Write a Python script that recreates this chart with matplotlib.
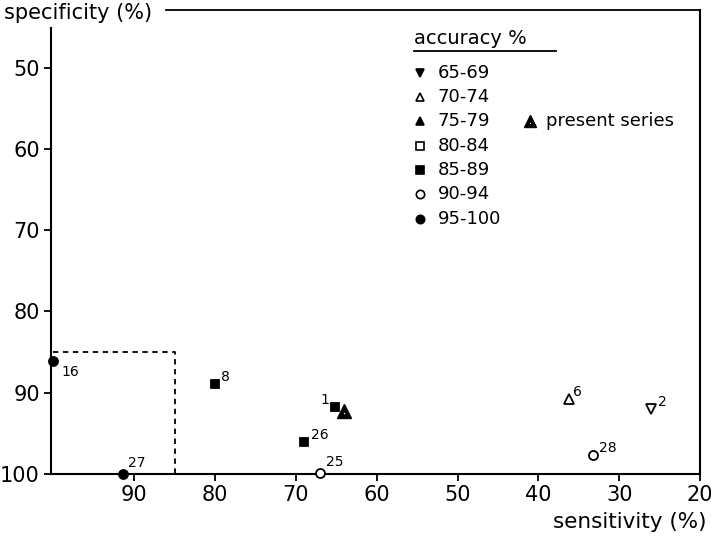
import matplotlib.pyplot as plt
from matplotlib.lines import Line2D

# datos: sensibilidad, especificidad, etiqueta, marcador, relleno
sens = [100, 91.4, 80.0, 69.0, 65.2, 67.0, 36.2, 26.0, 33.2]
espec = [86.1, 100, 88.9, 96.1, 91.8, 99.9, 90.8, 92.0, 97.7]
etiquetas = ['16', '27', '8', '26', '1', '25', '6', '2', '28']
marcadores = ['o', 'o', 's', 's', 's', 'o', '^', 'v', 'o']
rellenos = [True, True, True, True, True, False, False, False, False]

# serie propia
sens_propia = [64.0]
espec_propia = [92.2]

# leyenda
rangos = ['65-69', '70-74', '75-79', '80-84', '85-89', '90-94', '95-100']
marc_leyenda = ['v', '^', '^', 's', 's', 'o', 'o']
relleno_leyenda = [True, False, True, False, True, False, True]

# caja punteada
caja_sens = [100, 85, 85]
caja_espec = [85, 85, 100]

fig = plt.figure(figsize=(7.11, 5.36), dpi=100)
ax = fig.add_axes([0.0717, 0.1157, 0.9128, 0.8656])

ax.set_xlim(100.3, 20)
ax.set_ylim(100, 42.9)

# puntos
offsets = {'16': (6, -8), '27': (4, 3), '8': (4, 0), '26': (5, 0), '1': (-10, 0),
           '25': (4, 3), '6': (3, 0), '2': (5, 0), '28': (4, 0)}
for x, y, t, m, f in zip(sens, espec, etiquetas, marcadores, rellenos):
    ax.plot(x, y, marker=m, markersize=6.5 if m != 's' else 6, color='black',
            markerfacecolor='black' if f else 'white', markeredgewidth=1.3,
            linestyle='none', clip_on=False, zorder=5)
    ax.annotate(t, (x, y), xytext=offsets[t], textcoords='offset points',
                fontsize=10, ha='left', va='bottom' if offsets[t][1] >= 0 else 'center')

# serie propia: triangulo relleno con un punto blanco pequeño
ax.plot(sens_propia, espec_propia, marker='^', markersize=10, color='black',
        linestyle='none', zorder=5)
ax.plot(sens_propia[0], espec_propia[0] + 0.3, marker='o', markersize=1,
        markeredgewidth=0, color='white', linestyle='none', zorder=6)

ax.plot(caja_sens, caja_espec, linestyle=(0, (3, 2.5)), color='black', linewidth=1.3)

# ejes
ax.set_xticks([90, 80, 70, 60, 50, 40, 30, 20])
ax.set_yticks([50, 60, 70, 80, 90, 100])
ax.tick_params(direction='out', length=5, width=1.3, labelsize=15, pad=3)
for lado in ['left', 'bottom', 'right']:
    ax.spines[lado].set_linewidth(1.5)
ax.spines['left'].set_bounds(45.1, 100)
ax.spines['top'].set_visible(False)
ax.add_line(Line2D([0.177, 1], [1, 1], transform=ax.transAxes, color='black',
                   linewidth=1.3, clip_on=False))

ax.text(-0.072, 0.993, 'specificity (%)', transform=ax.transAxes, fontsize=15,
        ha='left', va='center')
ax.text(1.01, -0.103, 'sensitivity (%)', transform=ax.transAxes, fontsize=15.5,
        ha='right', va='center')

# leyenda manual
ax.text(0.559, 0.938, 'accuracy %', transform=ax.transAxes, fontsize=14,
        ha='left', va='center')
ax.add_line(Line2D([0.56, 0.778], [0.912, 0.912], transform=ax.transAxes,
                   color='black', linewidth=1.3))
y0 = 0.865
dy = 0.0525
for i, (r, m, f) in enumerate(zip(rangos, marc_leyenda, relleno_leyenda)):
    yy = y0 - i * dy
    ax.plot(0.568, yy, marker=m, markersize=6, color='black',
            markerfacecolor='black' if f else 'white', markeredgewidth=1.2,
            transform=ax.transAxes, linestyle='none')
    ax.text(0.596, yy, r, transform=ax.transAxes, fontsize=13, ha='left', va='center')
ax.plot(0.738, y0 - 2 * dy, marker='^', markersize=8, color='black',
        transform=ax.transAxes, linestyle='none')
ax.plot(0.738, y0 - 2 * dy - 0.004, marker='o', markersize=0.8, markeredgewidth=0,
        color='white', transform=ax.transAxes, linestyle='none')
ax.text(0.762, y0 - 2 * dy, 'present series', transform=ax.transAxes, fontsize=13,
        ha='left', va='center')

fig.savefig('out.png', dpi=100)
